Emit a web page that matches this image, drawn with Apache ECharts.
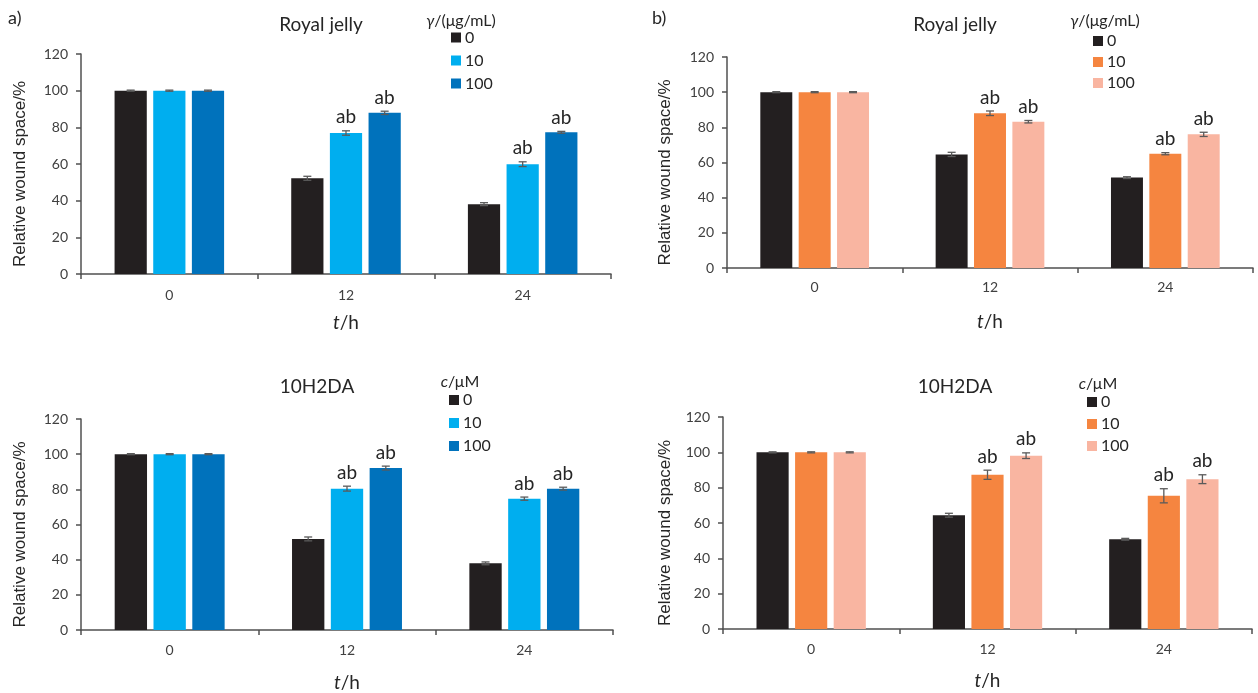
<!DOCTYPE html>
<html>
<head>
<meta charset="utf-8">
<script src="https://cdn.jsdelivr.net/npm/echarts@6/dist/echarts.min.js"></script>
<style>
html,body{margin:0;padding:0;background:#fff;}
#chart{width:1258px;height:693px;}
</style>
</head>
<body>
<div id="chart"></div>
<script>
// ---------- data ----------
const hours = ['0', '12', '24'];
const doseLabels = ['0', '10', '100'];
const yTicks = [0, 20, 40, 60, 80, 100, 120];
const sigLabels0 = ['', '', ''];
const sigLabels = ['', 'ab', 'ab'];

// a) Royal jelly (blue)
const rjA0 = [100, 52.2, 38.1];
const rjA10 = [100, 76.9, 59.9];
const rjA100 = [100, 87.9, 77.3];
const rjA0Err = [0.3, 1.1, 0.8];
const rjA10Err = [0.3, 1.2, 1.3];
const rjA100Err = [0.3, 0.9, 0.5];

// b) Royal jelly (orange)
const rjB0 = [100, 64.6, 51.4];
const rjB10 = [100, 88.0, 65.0];
const rjB100 = [100, 83.2, 76.0];
const rjB0Err = [0.3, 1.2, 0.5];
const rjB10Err = [0.3, 1.3, 0.6];
const rjB100Err = [0.3, 0.7, 1.2];

// a) 10H2DA (blue)
const hdA0 = [100, 51.8, 37.9];
const hdA10 = [100, 80.4, 74.7];
const hdA100 = [100, 92.1, 80.4];
const hdA0Err = [0.3, 1.1, 0.8];
const hdA10Err = [0.3, 1.4, 0.9];
const hdA100Err = [0.3, 1.1, 0.8];

// b) 10H2DA (orange)
const hdB0 = [100, 64.4, 50.8];
const hdB10 = [100, 87.3, 75.4];
const hdB100 = [100, 98.1, 84.8];
const hdB0Err = [0.3, 1.1, 0.5];
const hdB10Err = [0.3, 2.6, 4.0];
const hdB100Err = [0.3, 1.6, 2.5];

// ---------- styles / layout ----------
const blues = ['#231F20', '#00AEEF', '#0072BC'];
const oranges = ['#231F20', '#F58540', '#F9B5A1'];
const FONT = 'Lato, "Noto Sans", sans-serif';
const CAT_GAP = 0.38, BAR_GAP = 0.2;

const panels = [
  { id: 'rjA', title: 'Royal jelly', legTitle: '{i|γ}/(μg/mL)', colors: blues,
    vals: [rjA0, rjA10, rjA100], errs: [rjA0Err, rjA10Err, rjA100Err],
    grid: {left: 81, top: 54, width: 530, height: 220},
    titleXY: [316, 10], legTitleXY: [456, 8], legXY: [451, 28.5], legGap: 5,
    yNameGap: 52, xLabelMargin: 14, xNameGap: 39 },
  { id: 'rjB', title: 'Royal jelly', legTitle: '{i|γ}/(μg/mL)', colors: oranges,
    vals: [rjB0, rjB10, rjB100], errs: [rjB0Err, rjB10Err, rjB100Err],
    grid: {left: 727, top: 57, width: 526, height: 211},
    titleXY: [950, 10], legTitleXY: [1100, 8], legXY: [1093, 32], legGap: 3,
    yNameGap: 53, xLabelMargin: 12, xNameGap: 44 },
  { id: 'hdA', title: '10H2DA', legTitle: '{i|c}/μM', colors: blues,
    vals: [hdA0, hdA10, hdA100], errs: [hdA0Err, hdA10Err, hdA100Err],
    grid: {left: 81, top: 419, width: 532, height: 211},
    titleXY: [312, 372], legTitleXY: [455, 369], legXY: [449, 391], legGap: 5,
    yNameGap: 52, xLabelMargin: 13, xNameGap: 43 },
  { id: 'hdB', title: '10H2DA', legTitle: '{i|c}/μM', colors: oranges,
    vals: [hdB0, hdB10, hdB100], errs: [hdB0Err, hdB10Err, hdB100Err],
    grid: {left: 723, top: 417, width: 529, height: 212},
    titleXY: [950, 372], legTitleXY: [1093, 371], legXY: [1087, 393], legGap: 4,
    yNameGap: 49, xLabelMargin: 13, xNameGap: 42 }
];

const option = {
  animation: false,
  backgroundColor: '#fff',
  textStyle: {fontFamily: FONT},
  title: [
    {text: 'a)', left: 3, top: 4, textStyle: {fontFamily: FONT, fontSize: 18, fontWeight: 'normal', color: '#262626'}},
    {text: 'b)', left: 647, top: 4, textStyle: {fontFamily: FONT, fontSize: 18, fontWeight: 'normal', color: '#262626'}}
  ],
  grid: [], xAxis: [], yAxis: [], legend: [], series: []
};

panels.forEach((p, gi) => {
  option.grid.push(Object.assign({containLabel: false}, p.grid));
  option.title.push({
    text: p.title, left: p.titleXY[0], top: p.titleXY[1], textAlign: 'center',
    textStyle: {fontFamily: FONT, fontSize: 19, fontWeight: 'normal', color: '#262626'}
  });
  option.title.push({
    text: p.legTitle, left: p.legTitleXY[0], top: p.legTitleXY[1], textAlign: 'center',
    textStyle: {fontFamily: FONT, fontSize: 16, fontWeight: 'normal', color: '#262626',
      rich: {i: {fontFamily: FONT, fontSize: 16, fontStyle: 'italic', color: '#262626'}}}
  });
  option.xAxis.push({
    type: 'category', gridIndex: gi, data: hours,
    name: '{i|t}/h', nameLocation: 'middle', nameGap: p.xNameGap,
    nameTextStyle: {fontFamily: FONT, fontSize: 19, color: '#262626',
      rich: {i: {fontFamily: FONT, fontSize: 19, fontStyle: 'italic', color: '#262626'}}},
    axisLine: {lineStyle: {color: '#505050', width: 1.5}},
    axisTick: {show: true, interval: 0, length: 5, lineStyle: {color: '#505050', width: 1.5}},
    axisLabel: {fontFamily: FONT, fontSize: 14, color: '#404040', margin: p.xLabelMargin},
    splitLine: {show: false}
  });
  option.yAxis.push({
    type: 'value', gridIndex: gi, min: 0, max: 120, interval: 20,
    name: 'Relative wound space/%', nameLocation: 'middle', nameGap: p.yNameGap, nameRotate: 90,
    nameTextStyle: {fontFamily: '"Liberation Sans", Arial, sans-serif', fontSize: 17, color: '#262626',
      padding: [0, 20, 0, 0]},
    axisLine: {show: true, lineStyle: {color: '#505050', width: 1.5}},
    axisTick: {show: true, length: 5, lineStyle: {color: '#505050', width: 1.5}},
    axisLabel: {fontFamily: FONT, fontSize: 14, color: '#404040', margin: 13,
      formatter: v => String(yTicks[yTicks.indexOf(v)])},
    splitLine: {show: false}
  });
  const names = doseLabels.map(d => p.id + '|' + d);
  option.legend.push({
    orient: 'vertical', left: p.legXY[0], top: p.legXY[1], padding: 0,
    itemWidth: 10, itemHeight: 10, itemGap: p.legGap, icon: 'rect',
    selectedMode: false,
    data: names,
    formatter: n => n.split('|')[1],
    textStyle: {fontFamily: FONT, fontSize: 16, color: '#262626', lineHeight: 18, padding: [0, 0, 0, -1]}
  });
  p.vals.forEach((vals, k) => {
    option.series.push({
      type: 'bar', name: names[k], xAxisIndex: gi, yAxisIndex: gi,
      data: vals, barCategoryGap: (CAT_GAP * 100) + '%', barGap: (BAR_GAP * 100) + '%',
      itemStyle: {color: p.colors[k]}
    });
  });
  p.vals.forEach((vals, k) => {
    const labs = k === 0 ? sigLabels0 : sigLabels;
    option.series.push({
      type: 'custom', xAxisIndex: gi, yAxisIndex: gi, silent: true, z: 5,
      data: vals.map((v, i) => [i, v, p.errs[k][i]]),
      renderItem: (params, api) => {
        const ci = api.value(0), v = api.value(1), e = api.value(2);
        const band = api.size([1, 0])[0];
        const bw = band * (1 - CAT_GAP) / (3 + 2 * BAR_GAP);
        const off = (k - 1) * bw * (1 + BAR_GAP);
        const top = api.coord([ci, v + e]);
        const bot = api.coord([ci, v - e]);
        const x = top[0] + off;
        const cap = 4;
        const st = {stroke: '#5a5a5a', lineWidth: 1.3};
        const children = [
          {type: 'line', shape: {x1: x, y1: top[1], x2: x, y2: bot[1]}, style: st},
          {type: 'line', shape: {x1: x - cap, y1: top[1], x2: x + cap, y2: top[1]}, style: st},
          {type: 'line', shape: {x1: x - cap, y1: bot[1], x2: x + cap, y2: bot[1]}, style: st}
        ];
        const lab = labs[ci];
        if (lab) {
          children.push({type: 'text', style: {text: lab, x: x, y: top[1] - 4,
            align: 'center', verticalAlign: 'bottom',
            fontFamily: FONT, fontSize: 19, fill: '#262626'}});
        }
        return {type: 'group', children: children};
      }
    });
  });
});

const chart = echarts.init(document.getElementById('chart'), null, {renderer: 'canvas'});
chart.setOption(option);
</script>
</body>
</html>
